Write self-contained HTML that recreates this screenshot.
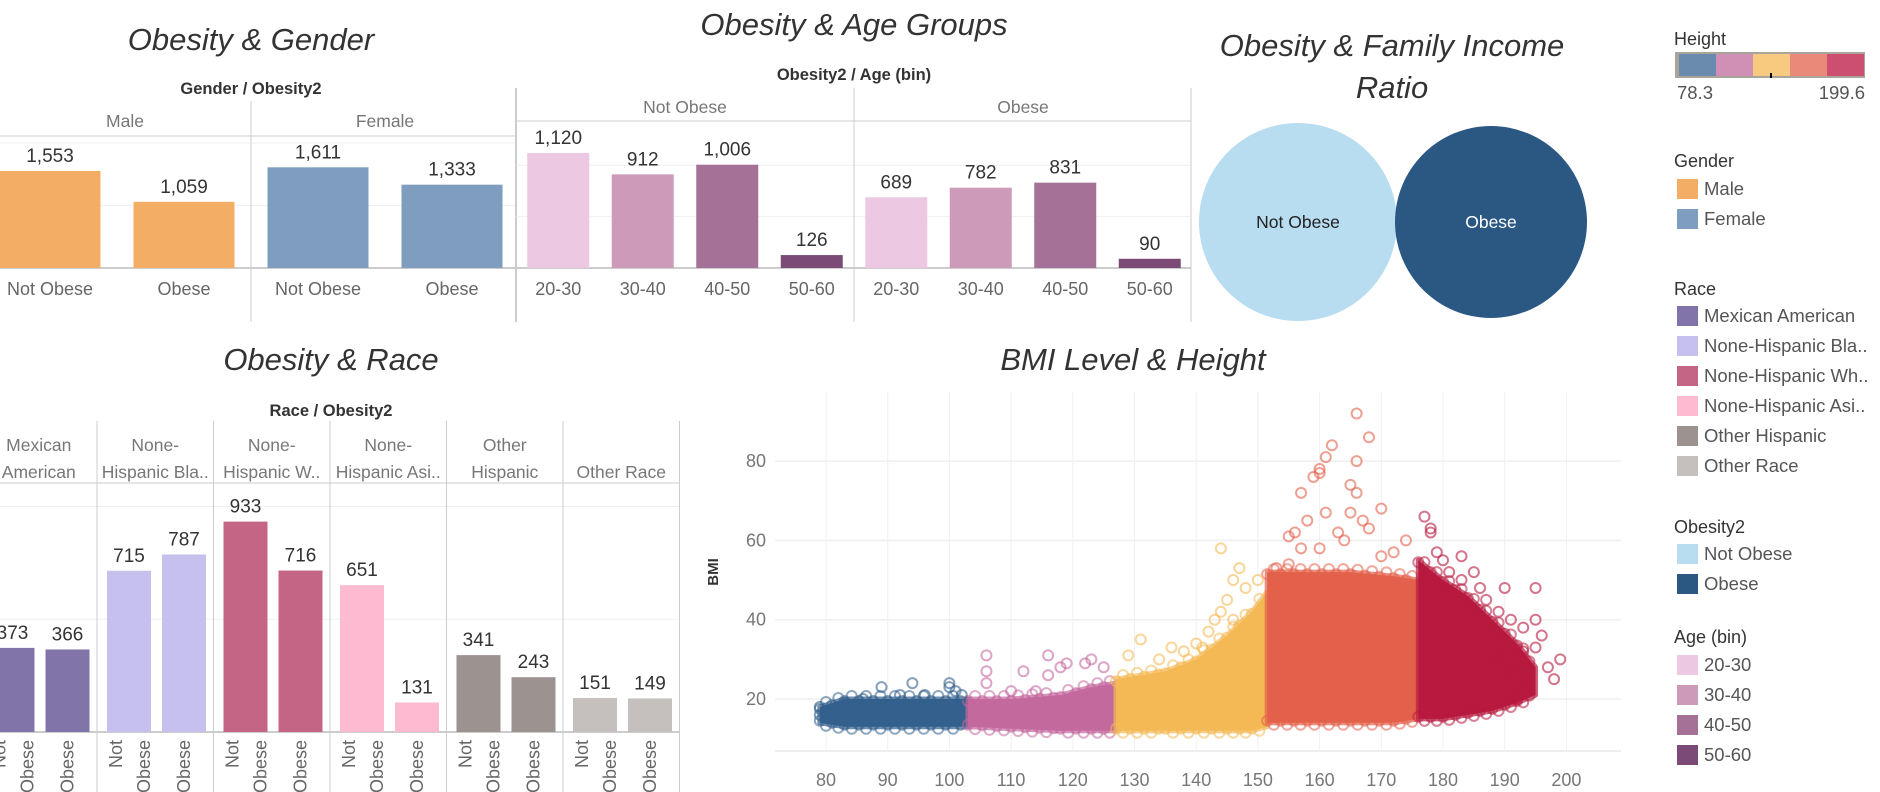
<!DOCTYPE html>
<html><head><meta charset="utf-8">
<style>
html,body{margin:0;padding:0;background:#fff;}
svg{display:block;font-family:"Liberation Sans",sans-serif;}
.ttl{font-style:italic;font-size:31px;fill:#333;}
.sub{font-weight:bold;font-size:16.5px;fill:#333;}
.hdr{font-size:17.5px;fill:#777;}
.xl{font-size:18px;fill:#666;}
.val{font-size:19px;fill:#333;}
.lg{font-size:18.5px;fill:#555;}
.lgt{font-size:18px;fill:#333;}
</style></head><body>
<svg id="dash" width="1880" height="792" viewBox="0 0 1880 792" xmlns="http://www.w3.org/2000/svg">
<text class="ttl" x="251" y="50" text-anchor="middle">Obesity &amp; Gender</text>
<text class="sub" x="251" y="94" text-anchor="middle">Gender / Obesity2</text>
<text class="ttl" x="854" y="35" text-anchor="middle">Obesity &amp; Age Groups</text>
<text class="sub" x="854" y="80" text-anchor="middle">Obesity2 / Age (bin)</text>
<text class="ttl" x="1392" y="56" text-anchor="middle">Obesity &amp; Family Income</text>
<text class="ttl" x="1392" y="98" text-anchor="middle">Ratio</text>
<text class="ttl" x="331" y="370" text-anchor="middle">Obesity &amp; Race</text>
<text class="sub" x="331" y="416" text-anchor="middle">Race / Obesity2</text>
<text class="ttl" x="1133" y="370" text-anchor="middle">BMI Level &amp; Height</text>
<g id="g-gender"></g><g id="g-age"></g><g id="g-circles"></g><g id="g-race"></g><g id="g-scatter"></g><g id="g-legend"></g>
</svg>
<script>
// ---------- data ----------
const genderGroups = ['Male','Female'];
const genderCats = ['Not Obese','Obese'];
const genderMale = [1553,1059];
const genderFemale = [1611,1333];
const genderColors = ['#f4ad65','#7f9dbf'];

const ageGroups = ['Not Obese','Obese'];
const ageBins = ['20-30','30-40','40-50','50-60'];
const ageNotObese = [1120,912,1006,126];
const ageObese = [689,782,831,90];
const ageColors = ['#ecc8e3','#ce9aba','#a67197','#7b4a77'];

const raceHeaders1 = ['Mexican','None-','None-','None-','Other',''];
const raceHeaders2 = ['American','Hispanic Bla..','Hispanic W..','Hispanic Asi..','Hispanic','Other Race'];
const raceNotObese = [373,715,933,651,341,151];
const raceObese = [366,787,716,131,243,149];
const raceColors = ['#8174a8','#c6c0ee','#c46586','#fdbbd2','#9c9290','#c5c0bd'];

const circleLabels = ['Not Obese','Obese'];
const circleSizes = [99,96];

const xTicks = [80,90,100,110,120,130,140,150,160,170,180,190,200];
const yTicks = [20,40,60,80];
const bandColors = ['#33608c','#c4699e','#f4b955','#e3614a','#b8193f'];
const bandBlueDense = [[79,14,18],[83,13,20],[90,13,20],[97,13,20],[103,13,20]];
const bandPinkDense = [[103,13,20],[110,12.5,20],[118,12,21],[123,12,23],[127,12,24]];
const bandYellowDense = [[127,12,25],[135,12,27],[140,12,30],[145,12,36],[149,12,42],[151.5,13,47]];
const bandOrangeDense = [[151.5,14,52],[158,14,52],[165,14,52],[172,14,51],[176,15,50]];
const bandRedDense = [[176,15,55],[180,15,50],[184,16,46],[188,17,40],[192,19,34],[195,21,28]];
const blueOut = [[79,16],[79,18],[81,15],[83,19],[89,23],[94,24],[96,21],[100,23],[100,24],[101,22],[102,21],[86,20],[92,21]];
const pinkOut = [[106,31],[106,27],[106,24],[112,27],[116,31],[116,26],[118,28],[119,29],[122,29],[123,30],[125,28],[110,22],[114,22]];
const yellowOut = [[129,31],[131,35],[134,30],[136,33],[138,32],[140,34],[142,37],[143,40],[144,42],[144,58],[145,45],[146,50],[147,53],[148,48],[150,50],[141,33],[146,40]];
const orangeOut = [[155,61],[156,62],[157,72],[158,65],[159,76],[160,77],[160,78],[161,81],[162,84],[161,67],[163,62],[164,60],[165,67],[165,74],[166,72],[166,92],[166,80],[167,65],[168,63],[168,86],[170,68],[157,58],[160,58],[170,56],[172,57],[155,54],[153,53],[174,60]];
const redOut = [[177,66],[178,62],[178,63],[179,57],[180,55],[181,52],[183,56],[183,50],[185,52],[186,48],[187,45],[189,42],[190,48],[191,40],[193,38],[195,48],[195,40],[195,33],[196,36],[197,28],[198,25],[199,30],[194,24],[192,20],[189,30],[191,27],[193,32]];

// ---------- helpers ----------
const NS='http://www.w3.org/2000/svg';
function mk(parent,tag,attrs,text){const e=document.createElementNS(NS,tag);for(const k in attrs)e.setAttribute(k,attrs[k]);if(text!==undefined)e.textContent=text;parent.appendChild(e);return e;}
function fmt(v){return v.toLocaleString('en-US');}

// ---------- gender ----------
(function(){
  const g=document.getElementById('g-gender');
  const base=268, k=0.0625, x0=-17, gw=268, sw=134, bw=101;
  [2000,1000].forEach(v=>{const l=mk(g,'line',{x1:0,x2:516,y1:base-v*k,y2:base-v*k,stroke:'#f0f0f0'});
    
    });
  let l=mk(g,'line',{x1:0,x2:516,y1:136,y2:136,stroke:'#ccc'});
  
  
  l=mk(g,'line',{x1:0,x2:516,y1:base,y2:base,stroke:'#ccc',"stroke-width":2});
  
  
  l=mk(g,'line',{x1:251,x2:251,y1:101,y2:322,stroke:'#ccc'});
  
  
  l=mk(g,'line',{x1:516,x2:516,y1:88,y2:322,stroke:'#ccc',"stroke-width":2});
  
  
  const vals=[genderMale,genderFemale];
  genderGroups.forEach((gn,gi)=>{
    const t=mk(g,'text',{x:x0+gi*gw+gw/2+(gi==0?8:0),y:127,'text-anchor':'middle',class:'hdr'},gn);
    
    
    genderCats.forEach((c,ci)=>{
      const v=vals[gi][ci], cx=x0+gi*gw+ci*sw+sw/2;
      const r=mk(g,'rect',{x:cx-bw/2,y:base-v*k,width:bw,height:v*k,fill:genderColors[gi]});
      
      
      const tv=mk(g,'text',{x:cx,y:base-v*k-9,'text-anchor':'middle',class:'val'},fmt(v));
      
      
      const tx=mk(g,'text',{x:cx,y:295,'text-anchor':'middle',class:'xl'},c);
      
      
    });
  });
})();

// ---------- age ----------
(function(){
  const g=document.getElementById('g-age');
  const base=268, k=115/1120, x0=516, gw=338, sw=84.5, bw=62;
  [1000,500].forEach(v=>{const l=mk(g,'line',{x1:516,x2:1191,y1:base-v*k,y2:base-v*k,stroke:'#f0f0f0'});
    
    });
  let l=mk(g,'line',{x1:516,x2:1191,y1:121,y2:121,stroke:'#ccc'});
  
  
  l=mk(g,'line',{x1:516,x2:1191,y1:base,y2:base,stroke:'#ccc',"stroke-width":2});
  
  
  [854,1191].forEach(x=>{const d=mk(g,'line',{x1:x,x2:x,y1:88,y2:322,stroke:'#ccc'});
    
    });
  const vals=[ageNotObese,ageObese];
  ageGroups.forEach((gn,gi)=>{
    const t=mk(g,'text',{x:x0+gi*gw+gw/2,y:113,'text-anchor':'middle',class:'hdr'},gn);
    
    
    ageBins.forEach((b,bi)=>{
      const v=vals[gi][bi], cx=x0+gi*gw+bi*sw+sw/2;
      const r=mk(g,'rect',{x:cx-bw/2,y:base-v*k,width:bw,height:v*k,fill:ageColors[bi]});
      
      
      const tv=mk(g,'text',{x:cx,y:base-v*k-9,'text-anchor':'middle',class:'val'},fmt(v));
      
      
      const tx=mk(g,'text',{x:cx,y:295,'text-anchor':'middle',class:'xl'},b);
      
      
    });
  });
})();

// ---------- circles ----------
(function(){
  const g=document.getElementById('g-circles');
  const cols=['#b8ddf0','#2b5783'], cxs=[1298,1491], tc=['#222','#fff'];
  circleLabels.forEach((n,i)=>{
    const c=mk(g,'circle',{cx:cxs[i],cy:222,r:circleSizes[i],fill:cols[i]});
    
    
    const t=mk(g,'text',{x:cxs[i],y:228,'text-anchor':'middle','font-size':'17.5',fill:tc[i]},n);
    
    
  });
})();

// ---------- race ----------
(function(){
  const g=document.getElementById('g-race');
  const base=732, k=0.2255, x0=-19.5, gw=116.5, sw=58, bw=44;
  [1000,500].forEach(v=>{const l=mk(g,'line',{x1:0,x2:680,y1:base-v*k,y2:base-v*k,stroke:'#f0f0f0'});
    
    });
  let l=mk(g,'line',{x1:0,x2:680,y1:483,y2:483,stroke:'#ccc'});
  
  
  l=mk(g,'line',{x1:0,x2:680,y1:base,y2:base,stroke:'#ccc',"stroke-width":2});
  
  
  raceHeaders2.forEach((h,i)=>{
    const gx=x0+i*gw;
    const d=mk(g,'line',{x1:gx+gw,x2:gx+gw,y1:421,y2:792,stroke:'#ccc'});
    
    
    const t1=mk(g,'text',{x:gx+gw/2,y:451,'text-anchor':'middle',class:'hdr'},raceHeaders1[i]);
    
    
    const t2=mk(g,'text',{x:gx+gw/2,y:478,'text-anchor':'middle',class:'hdr'},h);
    
    
    [raceNotObese[i],raceObese[i]].forEach((v,ci)=>{
      const cx=gx+ci*sw+sw/2+(ci==0?3:0);
      const r=mk(g,'rect',{x:cx-bw/2,y:base-v*k,width:bw,height:v*k,fill:raceColors[i]});
      
      
      const tv=mk(g,'text',{x:cx,y:base-v*k-9,'text-anchor':'middle',class:'val'},fmt(v));
      
      
      const lines=ci==0?[['Not',-13],['Obese',15]]:[['Obese',0]];
      lines.forEach(([s,dx])=>{
        const tx=mk(g,'text',{x:0,y:0,'text-anchor':'end',class:'xl','dominant-baseline':'central',transform:'translate('+(cx+dx)+',740) rotate(-90)'},s);
        
        
      });
    });
  });
})();

// ---------- scatter ----------
(function(){
  const g=document.getElementById('g-scatter');
  const X=h=>826+(h-80)*6.17, Y=b=>699-(b-20)*3.965;
  const L=775,R=1621,T=392,B=751;
  xTicks.forEach(t=>{
    const l=mk(g,'line',{x1:X(t),x2:X(t),y1:T,y2:B,stroke:'#f0f0f0'});
    
    
    const tx=mk(g,'text',{x:X(t),y:786,'text-anchor':'middle','font-size':'18',fill:'#777'},t);
    
    
  });
  yTicks.forEach(t=>{
    const l=mk(g,'line',{x1:L,x2:R,y1:Y(t),y2:Y(t),stroke:'#efefef',"stroke-width":1.5});
    
    
    const tx=mk(g,'text',{x:766,y:Y(t)+6,'text-anchor':'end','font-size':'18',fill:'#777'},t);
    
    
  });
  let ax=mk(g,'line',{x1:L,x2:R,y1:B,y2:B,stroke:'#eee',"stroke-width":2});
  
  
  const yt=mk(g,'text',{x:0,y:0,'text-anchor':'middle','font-size':'15','font-weight':'bold',fill:'#333',transform:'translate(718,572) rotate(-90)'},'BMI');
  
  
  const dense=[bandBlueDense,bandPinkDense,bandYellowDense,bandOrangeDense,bandRedDense];
  const outs=[blueOut,pinkOut,yellowOut,orangeOut,redOut];
  dense.forEach((d,i)=>{
    const top=d.map(p=>X(p[0])+','+Y(p[2])), bot=d.slice().reverse().map(p=>X(p[0])+','+Y(p[1]));
    const pg=mk(g,'polygon',{points:top.concat(bot).join(' '),fill:bandColors[i],stroke:bandColors[i],'stroke-width':5,'stroke-linejoin':'round','stroke-opacity':0.7});
    
    
    // hollow-circle fringe along the cloud edges (derived from the band arrays)
    for(let s=0;s<d.length-1;s++){
      const a=d[s], b=d[s+1];
      const n=Math.max(1,Math.round((X(b[0])-X(a[0]))/7));
      for(let j=0;j<n;j++){
        const f=j/n, h=a[0]+(b[0]-a[0])*f, hi=a[2]+(b[2]-a[2])*f, lo=a[1]+(b[1]-a[1])*f;
        [[hi,(j%2?3:-2)],[lo,(j%2?-2:2)]].forEach(([v,off])=>{
          const c=mk(g,'circle',{cx:X(h),cy:Y(v)-off,r:5,fill:'none',stroke:bandColors[i],'stroke-width':2,'stroke-opacity':0.55});
          
          
        });
      }
    }
  });
  outs.forEach((o,i)=>{
    o.forEach(p=>{
      const c=mk(g,'circle',{cx:X(p[0]),cy:Y(p[1]),r:5,fill:'none',stroke:bandColors[i],'stroke-width':2,'stroke-opacity':0.6});
      
      
    });
  });
})();

// ---------- legend ----------
(function(){
  const g=document.getElementById('g-legend');
  const x=1677;
  function title(s,y){const t=mk(g,'text',{x:x-3,y:y,class:'lgt'},s);
    
    }
  function item(s,y,c){const r=mk(g,'rect',{x:x,y:y-10,width:21,height:20,fill:c});
    
    
    const t=mk(g,'text',{x:x+27,y:y+6,class:'lg'},s);
    
    }
  title('Height',45);
  const hb=mk(g,'rect',{x:x-2,y:52,width:190,height:26,fill:'#aaa59c'});
  
  
  const rc=['#6a8bad','#d08fb4','#f7ca7f','#e9897a','#cc4f72'];
  rc.forEach((c,i)=>{const r=mk(g,'rect',{x:x+2+i*37,y:54,width:37,height:22,fill:c});
    
    });
  const tk=mk(g,'line',{x1:x+94,x2:x+94,y1:73,y2:78,stroke:'#000','stroke-width':2});
  
  
  let t=mk(g,'text',{x:x,y:99,class:'lg'},'78.3');
  
  
  t=mk(g,'text',{x:x+188,y:99,'text-anchor':'end',class:'lg'},'199.6');
  
  
  title('Gender',167);
  genderGroups.forEach((s,i)=>item(s,189+i*30,genderColors[i]));
  title('Race',295);
  const rn=['Mexican American','None-Hispanic Bla..','None-Hispanic Wh..','None-Hispanic Asi..','Other Hispanic','Other Race'];
  rn.forEach((s,i)=>item(s,316+i*30,raceColors[i]));
  title('Obesity2',533);
  ['Not Obese','Obese'].forEach((s,i)=>item(s,554+i*30,['#b8ddf0','#2b5783'][i]));
  title('Age (bin)',643);
  ageBins.forEach((s,i)=>item(s,665+i*30,ageColors[i]));
})();
</script>
</body></html>
